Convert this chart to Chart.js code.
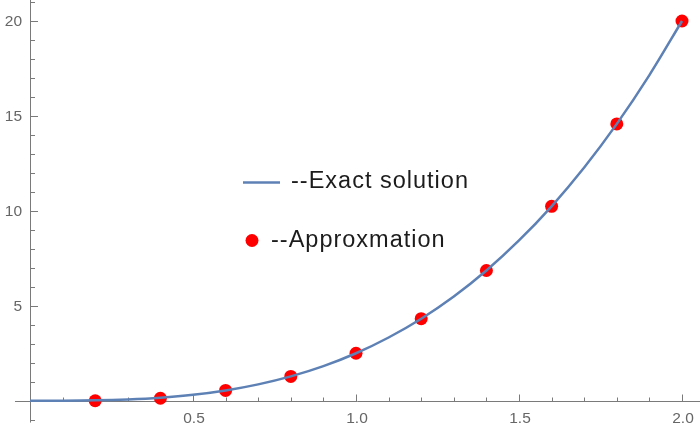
<!DOCTYPE html>
<html>
<head>
<meta charset="utf-8">
<script src="https://cdn.jsdelivr.net/npm/chart.js@4/dist/chart.umd.min.js"></script>
<style>
  html, body { margin: 0; padding: 0; background: #ffffff; }
  #wrap { width: 700px; height: 433px; position: relative; }
</style>
</head>
<body>
<div id="wrap"><canvas id="c" width="700" height="433"></canvas></div>
<script>
// ---- data ----
const exactX = [0, 0.1, 0.2, 0.3, 0.4, 0.5, 0.6, 0.7, 0.8, 0.9, 1.0, 1.1, 1.2, 1.3, 1.4, 1.5, 1.6, 1.7, 1.8, 1.9, 2.0];
const exactY = [0, 0.003, 0.02, 0.07, 0.16, 0.31, 0.54, 0.86, 1.28, 1.82, 2.5, 3.33, 4.32, 5.49, 6.86, 8.44, 10.24, 12.28, 14.58, 17.15, 20.0];
const approxX = [0.2, 0.4, 0.6, 0.8, 1.0, 1.2, 1.4, 1.6, 1.8, 2.0];
const approxY = [0.0, 0.13, 0.54, 1.28, 2.5, 4.32, 6.86, 10.24, 14.58, 20.0];
const xTickValues = [0.5, 1.0, 1.5, 2.0];
const xTickLabels = ['0.5', '1.0', '1.5', '2.0'];
const yTickValues = [5, 10, 15, 20];
const yTickLabels = ['5', '10', '15', '20'];
const legendLabels = ['--Exact solution', '--Approxmation'];

const axisColor = '#7a7a7a';
const tickLabelColor = '#666666';

const axesPlugin = {
  id: 'mmaAxes',
  beforeDatasetsDraw(chart) {
    const ctx = chart.ctx;
    const xs = chart.scales.x, ys = chart.scales.y;
    const ax = Math.round(xs.getPixelForValue(0)) + 0.5;
    const ay = Math.round(ys.getPixelForValue(0)) + 0.5;
    ctx.save();
    ctx.strokeStyle = axisColor;
    ctx.lineWidth = 1;
    // x axis
    ctx.beginPath();
    ctx.moveTo(xs.getPixelForValue(-0.046), ay);
    ctx.lineTo(chart.width, ay);
    ctx.stroke();
    // y axis
    ctx.beginPath();
    ctx.moveTo(ax, ys.getPixelForValue(-1.15));
    ctx.lineTo(ax, 0);
    ctx.stroke();
    // x ticks (minor every 0.1, major at labelled values)
    for (let i = 1; i <= 20; i++) {
      const v = i / 10;
      const major = xTickValues.some(t => Math.abs(t - v) < 1e-9);
      const px = Math.round(xs.getPixelForValue(v)) + 0.5;
      ctx.beginPath();
      ctx.moveTo(px, ay);
      ctx.lineTo(px, ay - (major ? 7 : 4));
      ctx.stroke();
    }
    // y ticks (minor every 1, major at labelled values)
    for (let v = -1; v <= 21; v++) {
      if (v === 0) continue;
      const major = yTickValues.includes(v);
      const py = Math.round(ys.getPixelForValue(v)) + 0.5;
      ctx.beginPath();
      ctx.moveTo(ax, py);
      ctx.lineTo(ax + (major ? 7.5 : 4.5), py);
      ctx.stroke();
    }
    // tick labels
    ctx.fillStyle = tickLabelColor;
    ctx.font = '15.5px "Liberation Sans", Arial, sans-serif';
    ctx.textAlign = 'center';
    ctx.textBaseline = 'middle';
    xTickValues.forEach((v, i) => {
      ctx.fillText(xTickLabels[i], xs.getPixelForValue(v) + 1, ay + 17.5);
    });
    ctx.textAlign = 'right';
    yTickValues.forEach((v, i) => {
      ctx.fillText(yTickLabels[i], ax - 8.5, ys.getPixelForValue(v) + 0.5);
    });
    ctx.restore();
  },
  afterDatasetsDraw(chart) {
    const ctx = chart.ctx;
    ctx.save();
    // legend entry 1: line
    ctx.strokeStyle = '#5E81B5';
    ctx.lineWidth = 2.5;
    ctx.beginPath();
    ctx.moveTo(243, 182.5);
    ctx.lineTo(280, 182.5);
    ctx.stroke();
    // legend entry 2: dot
    ctx.fillStyle = '#FF0000';
    ctx.beginPath();
    ctx.arc(252, 240.5, 6.5, 0, Math.PI * 2);
    ctx.fill();
    ctx.fillStyle = '#1c1c1c';
    ctx.font = '23.5px "Liberation Sans", Arial, sans-serif';
    ctx.letterSpacing = '1px';
    ctx.textAlign = 'left';
    ctx.textBaseline = 'middle';
    ctx.fillText(legendLabels[0], 291, 182);
    ctx.fillText(legendLabels[1], 271, 241);
    ctx.restore();
  }
};

new Chart(document.getElementById('c'), {
  type: 'scatter',
  data: {
    datasets: [
      {
        label: legendLabels[0],
        data: exactX.map((x, i) => ({ x: x, y: exactY[i] })),
        showLine: true,
        borderColor: '#5E81B5',
        borderWidth: 2.5,
        pointRadius: 0,
        cubicInterpolationMode: 'monotone',
        fill: false,
        clip: false
      },
      {
        label: legendLabels[1],
        data: approxX.map((x, i) => ({ x: x, y: approxY[i] })),
        showLine: false,
        pointRadius: 6.5,
        pointBackgroundColor: '#FF0000',
        pointBorderWidth: 0,
        pointBorderColor: '#FF0000',
        clip: false
      }
    ]
  },
  options: {
    responsive: false,
    devicePixelRatio: 1,
    animation: false,
    layout: { padding: 0, autoPadding: false },
    plugins: { legend: { display: false }, tooltip: { enabled: false }, title: { display: false } },
    scales: {
      x: { type: 'linear', min: -0.092, max: 2.0552, display: false },
      y: { type: 'linear', min: -1.70, max: 21.106, display: false }
    }
  },
  plugins: [axesPlugin]
});
</script>
</body>
</html>
